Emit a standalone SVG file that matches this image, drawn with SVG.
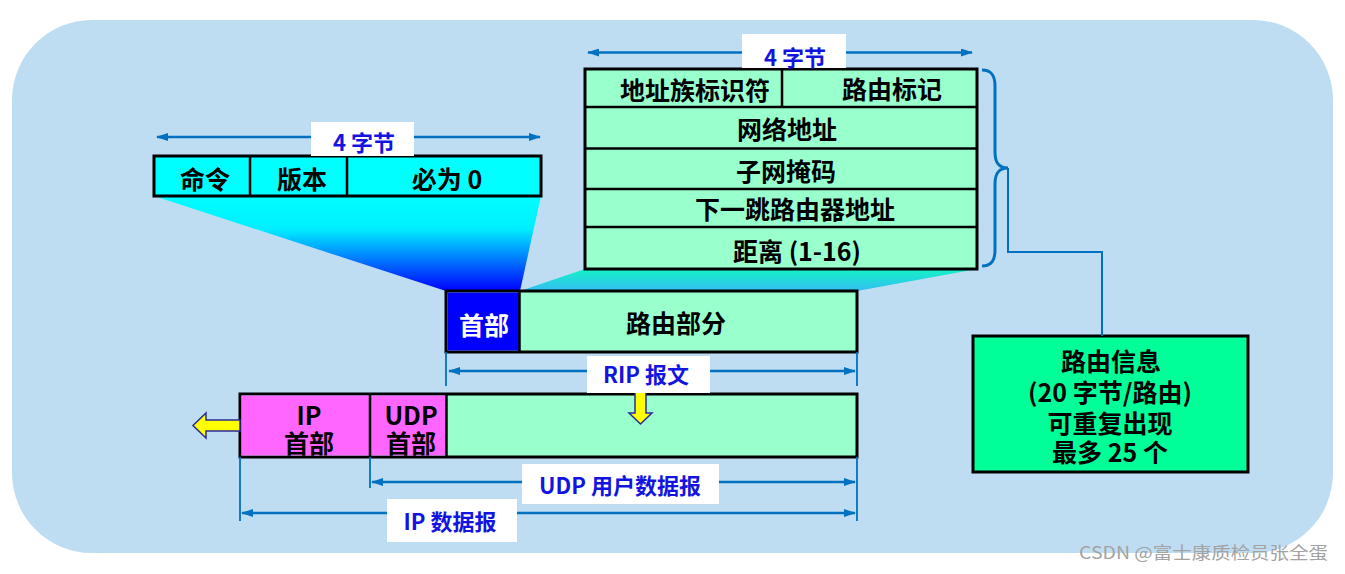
<svg xmlns="http://www.w3.org/2000/svg" width="1345" height="574" viewBox="0 0 1345 574">
<defs>
<style>
.t{font-family:"Noto Sans CJK SC","Liberation Sans",sans-serif;font-weight:bold;font-size:25px;text-anchor:middle;dominant-baseline:central;fill:#000}
.w{fill:#fff}
.b{fill:#1414E0;font-size:22px}
.box{stroke:#000;stroke-width:3}
.div{stroke:#000;stroke-width:2.5;fill:none}
.dim{stroke:#0070C0;stroke-width:2.5;fill:none;marker-start:url(#ah);marker-end:url(#ah)}
.tick{stroke:#0070C0;stroke-width:1.8;fill:none}
.lbl{fill:#fff}
.ya{fill:#FFFF00;stroke:#2B2B99;stroke-width:1.5}
</style>
<marker id="ah" viewBox="0 0 12 8" refX="11" refY="4" markerWidth="12" markerHeight="8" markerUnits="userSpaceOnUse" orient="auto-start-reverse">
<path d="M0,0 L12,4 L0,8 z" fill="#0070C0"/>
</marker>
<linearGradient id="g1" x1="0" y1="0" x2="0" y2="1">
<stop offset="0" stop-color="#00FFFF"/>
<stop offset="0.35" stop-color="#00EEFF"/>
<stop offset="1" stop-color="#0000FF"/>
</linearGradient>
<linearGradient id="g2" x1="0" y1="0" x2="0" y2="1">
<stop offset="0" stop-color="#14F2C6"/>
<stop offset="1" stop-color="#33BEF2"/>
</linearGradient>
</defs>
<rect x="12" y="20" width="1321" height="533" rx="80" ry="80" fill="#BEDDF2"/>
<g id="funnels">
<polygon points="154,196 541,196 520,291 446,291" fill="url(#g1)"/>
<polygon points="585,269 977,269 857,291 520,291" fill="url(#g2)"/>
</g>
<g id="rip-header-format">
<rect x="154" y="156" width="387" height="40" fill="#00FFFF" class="box"/>
<line x1="250" y1="156" x2="250" y2="196" class="div"/>
<line x1="347" y1="156" x2="347" y2="196" class="div"/>
<text x="205" y="178" class="t">命令</text>
<text x="302" y="178" class="t">版本</text>
<text x="447" y="178" class="t">必为 0</text>
</g>
<g id="route-entry">
<rect x="585" y="69" width="392" height="200" fill="#99FFCC" class="box"/>
<line x1="782" y1="69" x2="782" y2="107" class="div"/>
<line x1="585" y1="107" x2="977" y2="107" class="div"/>
<line x1="585" y1="148.5" x2="977" y2="148.5" class="div"/>
<line x1="585" y1="189" x2="977" y2="189" class="div"/>
<line x1="585" y1="227" x2="977" y2="227" class="div"/>
<text x="695" y="89" class="t">地址族标识符</text>
<text x="892" y="88" class="t">路由标记</text>
<text x="787" y="128" class="t">网络地址</text>
<text x="786" y="170" class="t">子网掩码</text>
<text x="795" y="208" class="t">下一跳路由器地址</text>
<text x="797" y="250" class="t">距离 (1-16)</text>
</g>
<g id="rip-message">
<rect x="446" y="291" width="411" height="61" fill="#99FFCC" class="box"/>
<rect x="447.5" y="292.5" width="72" height="58" fill="#0000FF"/>
<line x1="519.5" y1="291" x2="519.5" y2="352" class="div"/>
<text x="484" y="324" class="t w">首部</text>
<text x="676" y="322" class="t">路由部分</text>
</g>
<g id="ip-datagram">
<rect x="240" y="394" width="617" height="63" fill="#99FFCC" class="box"/>
<rect x="241.5" y="395.5" width="205" height="60" fill="#FF66FF"/>
<line x1="370" y1="394" x2="370" y2="457" class="div"/>
<line x1="446.5" y1="394" x2="446.5" y2="457" class="div"/>
<text class="t"><tspan x="309" y="414">IP</tspan><tspan x="309" y="442">首部</tspan></text>
<text class="t"><tspan x="411" y="414">UDP</tspan><tspan x="411" y="442">首部</tspan></text>
</g>
<g id="route-info">
<rect x="973" y="336" width="275" height="136" fill="#00FF99" class="box"/>
<text class="t"><tspan x="1111" y="360">路由信息</tspan><tspan x="1110" y="391">(20 字节/路由)</tspan><tspan x="1110" y="422">可重复出现</tspan><tspan x="1110" y="451">最多 25 个</tspan></text>
</g>
<g id="connectors">
<line x1="157" y1="137" x2="540" y2="137" class="dim"/>
<line x1="588" y1="52.5" x2="972" y2="52.5" class="dim"/>
<line x1="446" y1="352" x2="446" y2="386" class="tick"/>
<line x1="857" y1="352" x2="857" y2="386" class="tick"/>
<line x1="449" y1="371" x2="855" y2="371" class="dim"/>
<line x1="370" y1="457" x2="370" y2="488" class="tick"/>
<line x1="240" y1="457" x2="240" y2="521" class="tick"/>
<line x1="857" y1="457" x2="857" y2="521" class="tick"/>
<line x1="372" y1="482" x2="855" y2="482" class="dim"/>
<line x1="242" y1="513" x2="855" y2="513" class="dim"/>
<path d="M982,70 C992,70 995,76 995,86 L995,152 C995,162 998,168 1008,168 C998,168 995,174 995,184 L995,250 C995,260 992,266 982,266" stroke="#0070C0" stroke-width="3" fill="none"/>
<path d="M1008,168 L1008,252 L1102,252 L1102,336" stroke="#0070C0" stroke-width="2" fill="none"/>
<polygon points="635,385 646,385 646,413 652,413 640.5,424 629,413 635,413" class="ya"/>
<polygon points="240,420 206,420 206,413 193,425.5 206,438 206,431 240,431" class="ya"/>
</g>
<g id="dimension-labels">
<rect x="311" y="122" width="103" height="34" class="lbl"/>
<text x="364" y="141" class="t b">4 字节</text>
<rect x="742" y="34" width="104" height="34" class="lbl"/>
<text x="795" y="56" class="t b">4 字节</text>
<rect x="587" y="356" width="123" height="37" class="lbl"/>
<text x="646" y="373" class="t b">RIP 报文</text>
<rect x="522" y="464" width="197" height="40" class="lbl"/>
<text x="620" y="484" class="t b">UDP 用户数据报</text>
<rect x="387" y="499" width="130" height="43" class="lbl"/>
<text x="450" y="520" class="t b">IP 数据报</text>
</g>
<text x="1079" y="559" font-family="'Noto Sans CJK SC','Liberation Sans',sans-serif" font-size="17" fill="#A3A3A3" textLength="249" lengthAdjust="spacingAndGlyphs">CSDN @富士康质检员张全蛋</text>
</svg>
